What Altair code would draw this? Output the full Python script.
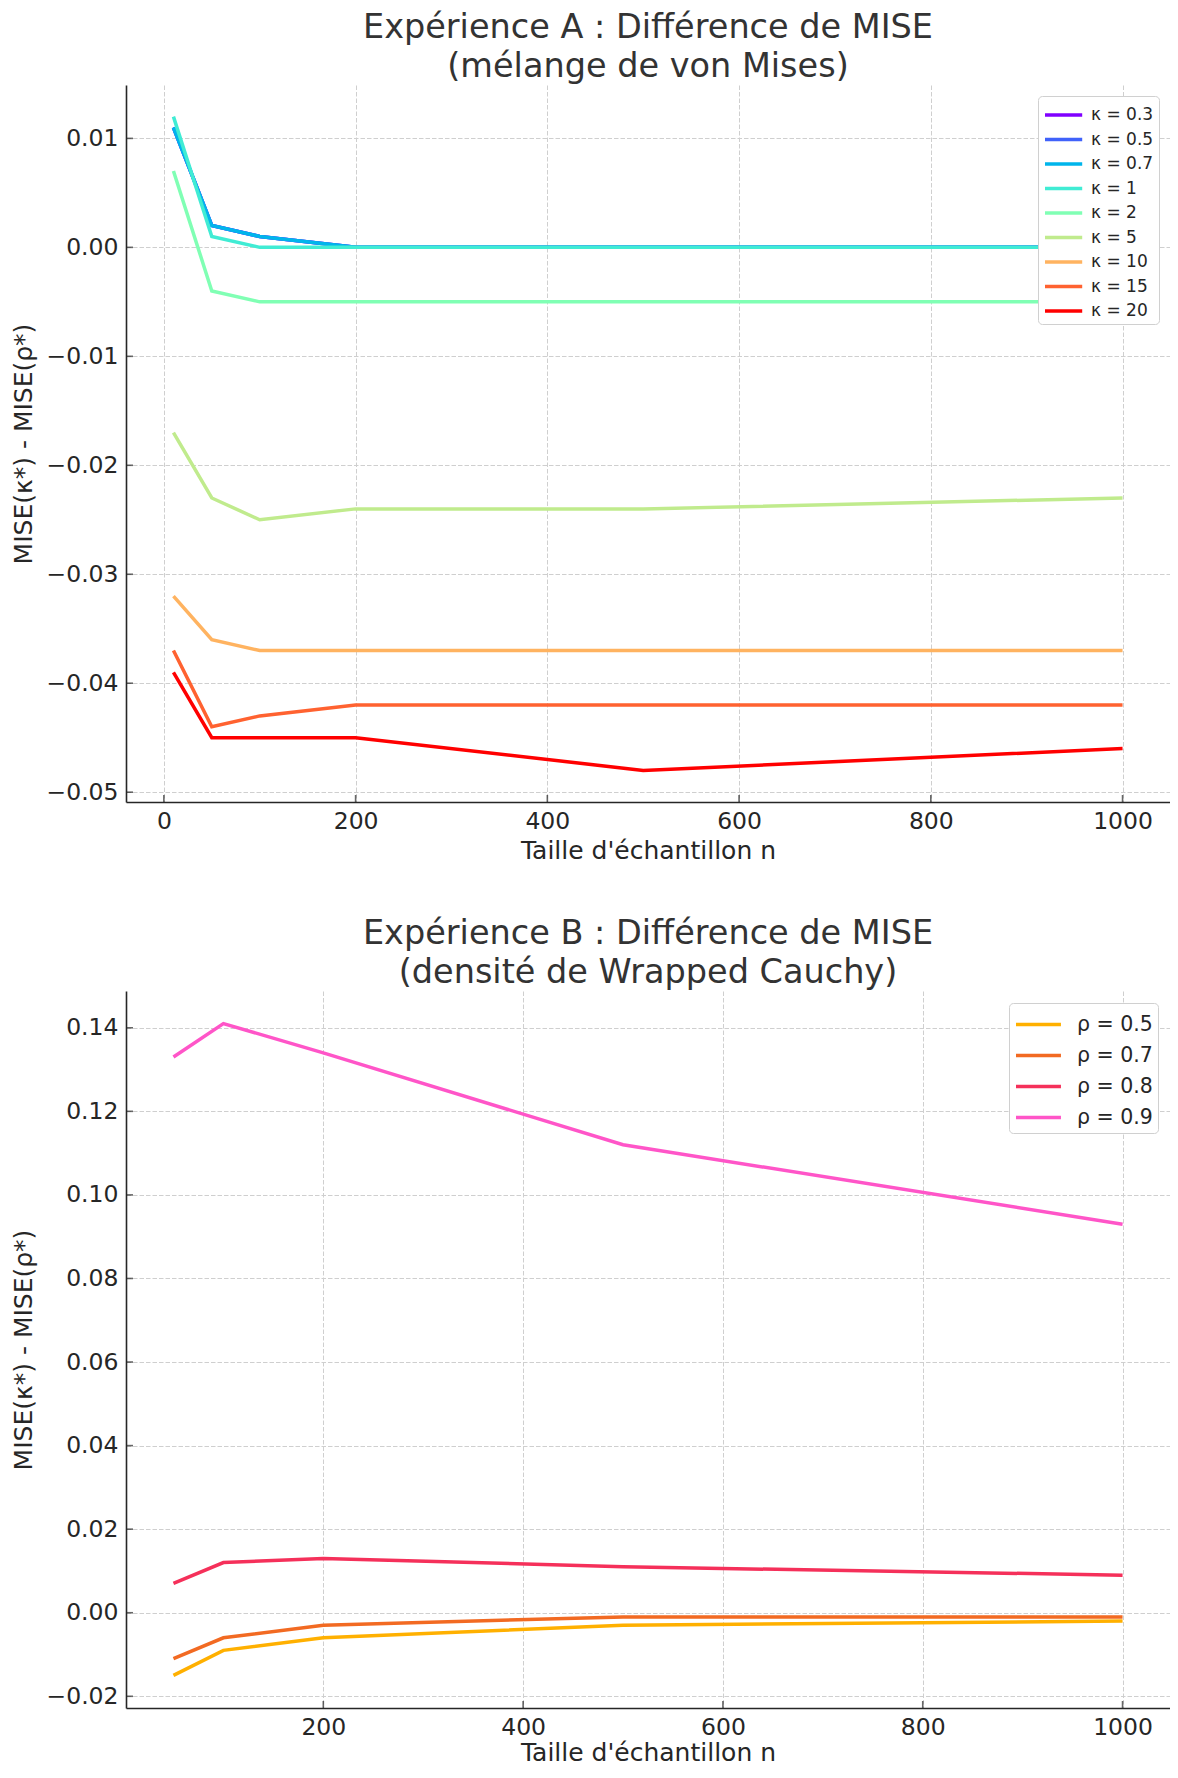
import altair as alt
import pandas as pd

# ---------------- data ----------------
n_a = [10, 50, 100, 200, 500, 1000]
kappa_labels = ["κ = 0.3", "κ = 0.5", "κ = 0.7", "κ = 1", "κ = 2",
                "κ = 5", "κ = 10", "κ = 15", "κ = 20"]
kappa_values = [
    [0.011, 0.002, 0.001, 0.000, 0.000, 0.000],
    [0.011, 0.002, 0.001, 0.000, 0.000, 0.000],
    [0.011, 0.002, 0.001, 0.000, 0.000, 0.000],
    [0.012, 0.001, 0.000, 0.000, 0.000, 0.000],
    [0.007, -0.004, -0.005, -0.005, -0.005, -0.005],
    [-0.017, -0.023, -0.025, -0.024, -0.024, -0.023],
    [-0.032, -0.036, -0.037, -0.037, -0.037, -0.037],
    [-0.037, -0.044, -0.043, -0.042, -0.042, -0.042],
    [-0.039, -0.045, -0.045, -0.045, -0.048, -0.046],
]
kappa_colors = ["#8000ff", "#4062fa", "#00b5eb", "#40ecd4", "#80ffb4",
                "#c0eb8d", "#ffb360", "#ff6230", "#ff0000"]

n_b = [50, 100, 200, 500, 1000]
rho_labels = ["ρ = 0.5", "ρ = 0.7", "ρ = 0.8", "ρ = 0.9"]
rho_values = [
    [-0.015, -0.009, -0.006, -0.003, -0.002],
    [-0.011, -0.006, -0.003, -0.001, -0.001],
    [0.007, 0.012, 0.013, 0.011, 0.009],
    [0.133, 0.141, 0.134, 0.112, 0.093],
]
rho_colors = ["#ffb000", "#f26a22", "#f5305a", "#ff55c8"]

xticks_a = [0, 200, 400, 600, 800, 1000]
yticks_a = [-0.05, -0.04, -0.03, -0.02, -0.01, 0.00, 0.01]
xticks_b = [200, 400, 600, 800, 1000]
yticks_b = [-0.02, 0.00, 0.02, 0.04, 0.06, 0.08, 0.10, 0.12, 0.14]

title_a = ["Expérience A : Différence de MISE", "(mélange de von Mises)"]
title_b = ["Expérience B : Différence de MISE", "(densité de Wrapped Cauchy)"]
xlabel = "Taille d'échantillon n"
ylabel = "MISE(κ*) - MISE(ρ*)"

# ---------------- style ----------------
W, H = 1044, 717
TXT = "#262626"
AX = "#262626"
GRID = "#cfcfcf"
LABEL_EXPR = "replace(format(datum.value, '.2f'), '-', '−')"
LEG_PATH = "M-1,0H2.1"   # long horizontal legend line


def long_df(xs, labels, values):
    rows = []
    for lab, vals in zip(labels, values):
        for x, v in zip(xs, vals):
            rows.append({"n": x, "v": v, "serie": lab})
    return pd.DataFrame(rows)


def panel(xs, labels, values, colors, xdom, ydom, xticks, yticks, title,
          leg_font, leg_sym, leg_row, leg_offset, leg_lab_off, x_title_pad):
    df = long_df(xs, labels, values)
    xsc = alt.Scale(domain=xdom, nice=False, zero=False)
    ysc = alt.Scale(domain=ydom, nice=False, zero=False)
    xax = alt.Axis(values=xticks, format="d", title=xlabel, ticks=False,
                   labelPadding=7, titlePadding=x_title_pad)
    yax = alt.Axis(values=yticks, labelExpr=LABEL_EXPR, title=ylabel,
                   ticks=False, labelPadding=8, titlePadding=9)
    lines = alt.Chart(df).mark_line(strokeWidth=3.5, clip=True).encode(
        x=alt.X("n:Q", scale=xsc, axis=xax),
        y=alt.Y("v:Q", scale=ysc, axis=yax),
        color=alt.Color(
            "serie:N",
            sort=labels,
            scale=alt.Scale(domain=labels, range=colors),
            legend=alt.Legend(
                title=None, orient="top-right", offset=leg_offset,
                symbolType=LEG_PATH, symbolSize=leg_sym,
                symbolStrokeWidth=3.5, labelFontSize=leg_font,
                labelColor=TXT, rowPadding=leg_row,
                strokeColor="#d0d0d0", fillColor="white",
                cornerRadius=4, padding=5, labelOffset=leg_lab_off,
            ),
        ),
        detail="serie:N",
    )
    # inward tick marks (matplotlib style)
    ytk = alt.Chart(pd.DataFrame({"t": yticks})).mark_tick(
        color=AX, thickness=1.6, size=7).encode(
        y=alt.Y("t:Q", scale=ysc), x=alt.value(3.5))
    xtk = alt.Chart(pd.DataFrame({"t": xticks})).mark_tick(
        color=AX, thickness=1.6, size=7).encode(
        x=alt.X("t:Q", scale=xsc), y=alt.value(H - 3.5))
    return alt.layer(lines, ytk, xtk).properties(
        width=W, height=H,
        title=alt.TitleParams(text=title, fontSize=33.5, lineHeight=39.5,
                              fontWeight="normal", color="#333333",
                              anchor="middle", frame="group", offset=0.5),
    )


top = panel(n_a, kappa_labels, kappa_values, kappa_colors,
            [-39.5, 1049.5], [-0.0509, 0.0149], xticks_a, yticks_a, title_a,
            17, 576, 2.5, 11, 20, 6)
bottom = panel(n_b, rho_labels, rho_values, rho_colors,
               [2.5, 1047.5], [-0.0228, 0.1488], xticks_b, yticks_b, title_b,
               20.5, 841, 4, 12, 30, 2)

chart = alt.vconcat(top, bottom, spacing=52).resolve_scale(
    color="independent"
).properties(
    padding={"left": 3, "top": 2, "right": 0, "bottom": 0}
).configure(
    font="DejaVu Sans",
).configure_view(
    stroke=None,
).configure_axis(
    domainColor=AX, domainWidth=1.6,
    grid=True, gridColor=GRID, gridDash=[4.5, 2], gridWidth=1,
    labelFontSize=23.5, labelColor=TXT, labelFont="DejaVu Sans",
    titleFontSize=25, titleColor=TXT, titleFontWeight="normal",
    titleFont="DejaVu Sans",
).configure_legend(
    labelFont="DejaVu Sans",
)

chart.save("out.html", embed_options={"renderer": "svg", "actions": False})
